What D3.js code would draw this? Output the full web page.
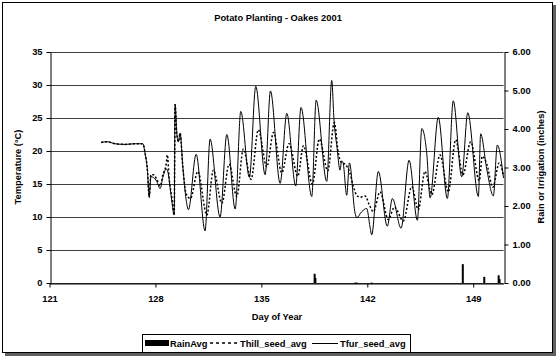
<!DOCTYPE html>
<html><head><meta charset="utf-8">
<script src="https://cdn.jsdelivr.net/npm/d3@7"></script>
<style>
body{margin:0;background:#fff}
svg text{font-family:"Liberation Sans",Arial,sans-serif;font-weight:bold;font-size:9.3px;fill:#000}
</style>
</head><body><svg id="c" width="559" height="358"></svg>
<script>
// ---- data ----
const xTicks = [121,128,135,142,149];
const yTicks = [0,5,10,15,20,25,30,35];
const yRTicks = [0,1,2,3,4,5,6];

const tfurDays = [124.41,124.79,125.34,126.00,126.66,127.17,127.32,127.47,127.59,127.70,127.87,128.09,128.31,128.49,128.71,128.79,129.08,129.24,129.30,129.41,129.52,129.63,129.81,130.03,130.18,130.69,131.28,131.61,132.27,132.72,133.27,133.64,134.21,134.63,135.25,135.60,136.24,136.68,137.27,137.62,138.33,138.62,139.32,139.65,139.80,140.00,140.20,140.30,140.40,140.64,140.82,141.19,141.30,141.63,141.96,142.18,142.29,142.73,143.32,143.66,144.23,144.76,145.31,145.60,145.93,146.15,146.69,147.29,147.68,148.24,148.64,149.34,149.49,149.89,150.33,150.59,151.00];
const tfurVals = [21.3,21.4,21.1,21.0,21.1,21.1,19.6,17.1,13.0,16.1,16.0,15.4,14.3,16.0,17.3,17.1,12.5,10.3,27.1,22.7,21.4,22.7,17.6,12.6,11.1,19.5,7.9,21.8,10.0,22.5,11.2,26.0,16.0,29.8,16.4,29.1,15.1,25.7,14.7,26.6,13.1,27.7,15.4,30.7,24.7,20.5,17.1,18.5,18.2,13.3,18.2,10.6,9.9,10.8,11.3,8.5,7.3,16.9,8.6,12.8,8.3,18.6,9.5,23.4,19.6,12.9,25.1,12.8,27.6,16.1,25.8,13.1,22.6,17.3,13.2,20.9,15.9];

const thillDays = [124.41,124.79,125.34,126.00,126.66,127.17,127.32,127.47,127.59,127.70,127.87,128.09,128.31,128.49,128.71,128.79,128.90,129.08,129.24,129.30,129.41,129.52,129.63,129.81,130.03,130.31,130.80,131.40,131.83,132.39,132.87,133.38,133.81,134.32,134.80,135.36,135.80,136.35,136.83,137.41,137.78,138.37,138.83,139.39,139.82,140.09,140.31,140.53,140.86,141.08,141.30,141.52,141.85,142.14,142.40,142.84,143.39,143.79,144.38,144.94,145.37,145.81,146.26,146.81,147.35,147.84,148.32,148.83,149.40,149.60,149.90,150.29,150.72,151.00];
const thillVals = [21.3,21.4,21.1,21.0,21.1,21.1,19.6,17.1,13.0,16.4,16.4,15.7,14.7,16.4,18.0,19.4,16.0,13.0,10.3,27.0,22.7,21.4,22.7,17.6,13.5,12.8,16.9,10.3,17.1,12.1,18.0,13.1,20.3,15.7,23.2,17.6,22.8,16.7,21.1,16.2,20.8,15.0,21.8,17.0,24.3,19.6,18.2,18.0,16.6,14.6,13.3,13.0,13.2,11.8,10.8,13.8,9.6,11.5,9.4,14.6,11.1,16.9,13.4,19.4,13.8,21.7,16.4,21.4,15.5,19.2,18.0,14.5,18.2,16.2];

const rainDays = [138.52,138.57,141.20,141.30,142.29,148.31,149.73,150.68,150.74];
const rainVals = [0.24,0.13,0.01,0.01,0.01,0.49,0.16,0.20,0.10];

// ---- chart ----
const svg = d3.select("#c");
// frame with shadow
svg.append("rect").attr("x",5).attr("y",5).attr("width",551).attr("height",351).attr("fill","#606060");
svg.append("rect").attr("x",2.5).attr("y",2.5).attr("width",550).attr("height",350).attr("fill","#fff").attr("stroke","#000").attr("stroke-width",1);

const x = d3.scaleLinear().domain([121,151]).range([49.5,503.5]);
const y = d3.scaleLinear().domain([0,35]).range([283,52]);
const yR = d3.scaleLinear().domain([0,6]).range([283,52]);

svg.append("text").attr("x",278).attr("y",21).attr("text-anchor","middle").text("Potato Planting - Oakes 2001");

// gridlines
svg.append("g").selectAll("line").data(yTicks).join("line")
  .attr("x1",x(121)).attr("x2",x(151))
  .attr("y1",d=>Math.round(y(d))+0.5).attr("y2",d=>Math.round(y(d))+0.5)
  .attr("stroke","#404040").attr("stroke-width",1);

// rain bars
const rain = rainDays.map((d,i)=>[d,rainVals[i]]);
svg.append("g").selectAll("rect").data(rain).join("rect")
  .attr("x",d=>x(d[0])-1).attr("width",2)
  .attr("y",d=>yR(d[1])).attr("height",d=>Math.max(1,yR(0)-yR(d[1])))
  .attr("fill","#000");

const line = d3.line().x(d=>x(d[0])).y(d=>y(d[1])).curve(d3.curveMonotoneX);
const tfur = tfurDays.map((d,i)=>[d,tfurVals[i]]);
const thill = thillDays.map((d,i)=>[d,thillVals[i]]);
svg.append("path").attr("d",line(tfur)).attr("fill","none").attr("stroke","#000").attr("stroke-width",1);
svg.append("path").attr("d",line(thill)).attr("fill","none").attr("stroke","#000").attr("stroke-width",1.5).attr("stroke-dasharray","2,2");

// axes
const gx = svg.append("g").attr("transform",`translate(0,${Math.round(y(0))+0.5})`)
  .call(d3.axisBottom(x).tickValues(xTicks).tickSize(4).tickSizeOuter(0).tickPadding(6).tickFormat(d3.format("d")));
const gl = svg.append("g").attr("transform",`translate(${Math.round(x(121))+0.5},0)`)
  .call(d3.axisLeft(y).tickValues(yTicks).tickSize(4).tickSizeOuter(0).tickPadding(4));
const gr = svg.append("g").attr("transform",`translate(${Math.round(x(151))+0.5},0)`)
  .call(d3.axisRight(yR).tickValues(yRTicks).tickSize(4).tickSizeOuter(0).tickPadding(4).tickFormat(d3.format(".2f")));
[gx,gl,gr].forEach(g=>{
  g.attr("font-family",null).attr("font-size",null);
  g.selectAll("path,line").attr("stroke","#000");
});
gx.selectAll("text").attr("dy","0.9em");

// axis titles
svg.append("text").attr("x",277).attr("y",320).attr("text-anchor","middle").text("Day of Year");
svg.append("text").attr("transform","translate(21,167) rotate(-90)").attr("text-anchor","middle").text("Temperature (°C)");
svg.append("text").attr("transform","translate(544,167) rotate(-90)").attr("text-anchor","middle").text("Rain or Irrigation (inches)");

// legend
const lg = svg.append("g");
lg.append("rect").attr("x",142.5).attr("y",334.5).attr("width",268).attr("height",18).attr("fill","#fff").attr("stroke","#000");
lg.append("rect").attr("x",145).attr("y",340).attr("width",24).attr("height",6).attr("fill","#000");
lg.append("text").attr("x",170).attr("y",347).text("RainAvg");
lg.append("line").attr("x1",210).attr("x2",238).attr("y1",343).attr("y2",343).attr("stroke","#000").attr("stroke-width",1.5).attr("stroke-dasharray","3,3");
lg.append("text").attr("x",240).attr("y",347).text("Thill_seed_avg");
lg.append("line").attr("x1",312).attr("x2",338).attr("y1",343.5).attr("y2",343.5).attr("stroke","#000").attr("stroke-width",1);
lg.append("text").attr("x",340).attr("y",347).text("Tfur_seed_avg");
</script>
</body></html>
